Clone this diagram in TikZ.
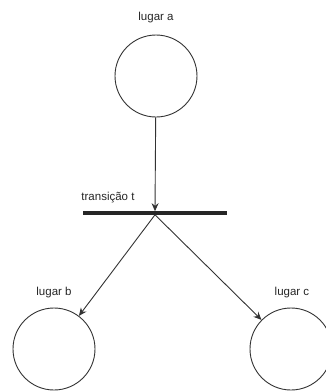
\documentclass[tikz,border=0pt]{standalone}
\usepackage{fontspec}
\setmainfont{Liberation Sans}
\usetikzlibrary{arrows.meta}

\begin{document}
\begin{tikzpicture}[x=1pt,y=-1pt,lugar/.style={draw=black!80,circle,minimum size=82pt,inner sep=0pt,line width=.9pt},rot/.style={font=\fontsize{11.5}{13}\selectfont,text=black!85,inner sep=0pt},arco/.style={->,>={Stealth[length=8pt,width=7pt]},line width=.9pt,draw=black!80}]
\useasboundingbox (0,0) rectangle (326,392);

\node[lugar] (a) at(156,76) {};
\node[lugar] (b) at(54,349) {};
\node[lugar] (c) at(291,349) {};
\node[fill=black!85,minimum width=144pt,minimum height=3.2pt,inner sep=0pt] (t) at(155,213) {};
\node[rot] (la) at(156,18) {lugar a};
\node[rot] (lb) at(54,293) {lugar b};
\node[rot] (lc) at(292,293) {lugar c};
\node[rot] (lt) at(108,198) {transição t};
\draw[arco](a)--(t.north);\draw[arco](t.south)--(b);\draw[arco](t.south)--(c);
\end{tikzpicture}
\end{document}
